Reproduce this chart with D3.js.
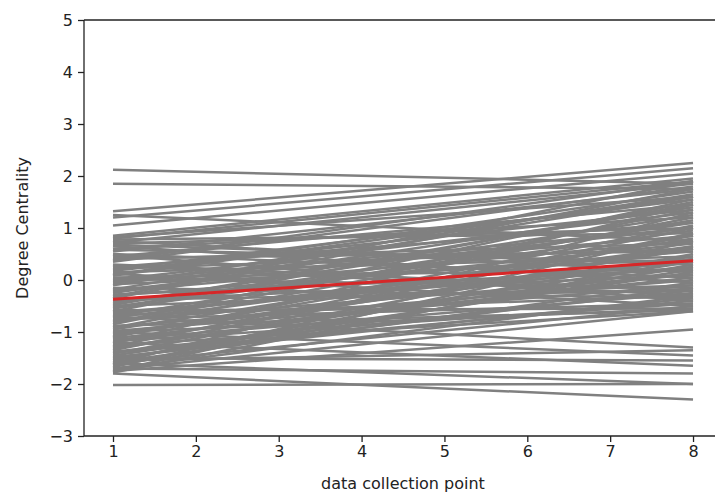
<!DOCTYPE html>
<html>
<head>
<meta charset="utf-8">
<script src="https://cdn.jsdelivr.net/npm/d3@7"></script>
<style>
  body { margin: 0; background: #fff; }
  svg { display: block; font-family: "DejaVu Sans", sans-serif; }
</style>
</head>
<body>
<svg id="chart" width="715" height="495"></svg>
<script>
// data collection points (x values)
const points = [1, 2, 3, 4, 5, 6, 7, 8];

// per-subject fitted lines: value at first and last collection point
const startValues = [
  2.12, 1.85, 1.32, 1.2, 1.05, 0.85, 0.8, 1.25,
  0.82, 0.78, 0.72, 0.68, 0.6, 0.55, 0.5, 0.45, 0.4, 0.35, 0.3, 0.25,
  0.2, 0.15, 0.1, 0.05, 0.0, -0.05, -0.1, -0.15, -0.2, -0.25,
  -0.3, -0.35, -0.4, -0.45, -0.5, -0.55, -0.6, -0.65, -0.7, -0.75,
  -0.8, -0.85, -0.9, -0.95, -1.0, -1.05, -1.1, -1.15, -1.2, -1.25,
  -1.3, -1.35, -1.4, -1.45, -1.5, -1.55, -1.6, -1.65, -1.7, -1.75,
  0.65, 0.38, 0.12, -0.18, -0.42, -0.68, -0.92, -1.12, -1.38, -0.28,
  0.22, -0.58, -0.02, -1.02, 0.48, -0.78, -1.28, 0.02, -0.48, -1.58,
  0.58, -0.88, -1.68,
  0.7, 0.42, 0.18, -0.08, -0.22, -0.38, -0.52, -0.62, -0.72, -0.82,
  -0.98, -1.08, -1.18, -1.32, -1.42, -1.48, -1.52, -1.62, -1.72, -1.78,
  0.28, 0.08, -0.32, -1.22, 0.75,
  -2.02, -1.8, -1.7, -1.5, -1.55, -1.2, -1.0, -0.7, -1.75, -1.6
];
const endValues = [
  1.85, 1.75, 2.25, 2.15, 2.05, 1.95, 1.9, 0.75,
  1.6, 0.9, 1.85, 0.3, 1.2, 1.75, 0.05, 1.45, 0.7, 1.8, -0.2, 1.1,
  1.55, 0.45, 1.7, 0.2, 1.3, 0.85, 1.65, -0.35, 1.0, 1.4,
  0.55, 1.75, 0.1, 1.25, -0.1, 0.95, 1.5, 0.35, 1.15, -0.45,
  0.65, 1.35, 0.0, 0.8, -0.55, 0.4, 1.05, -0.25, 0.6, -0.6,
  0.25, 0.9, -0.4, 0.15, -0.15, 0.5, -0.5, 0.3, -0.3, 0.75,
  -0.05, 1.9, -0.5, 1.6, 0.7, -0.3, 1.2, 0.05, -0.2, 0.2,
  0.6, -0.55, 1.0, 0.45, -0.4, 0.1, 1.0, -0.15, 1.45, -0.05,
  0.35, -0.58, 0.9,
  1.0, 0.55, 1.35, 0.4, 0.75, -0.2, 1.1, 0.25, 0.6, 1.55,
  -0.1, 0.85, -0.45, 0.35, 0.65, -0.35, 0.2, 1.3, -0.6, 0.4,
  -0.3, 1.6, 1.9, 1.45, 0.15,
  -2.0, -2.3, -1.8, -1.55, -1.35, -1.65, -1.45, -1.3, -0.95, -2.0
];

// mean trend
const meanValues = [-0.37, 0.37];

const yTicks = [-3, -2, -1, 0, 1, 2, 3, 4, 5];
const xLabel = "data collection point";
const yLabel = "Degree Centrality";

const svg = d3.select('#chart');
const margin = { top: 20, left: 84, bottom: 59 };
const height = 495 - margin.top - margin.bottom;

// matplotlib-style 5% margins on x
const x = d3.scaleLinear().domain([0.65, 8.35]).range([margin.left, margin.left + (8.35 - 0.65) * 82.86]);
const y = d3.scaleLinear().domain([-3, 5]).range([margin.top + height, margin.top]);

const first = points[0], last = points[points.length - 1];
const line = d3.line().x(d => x(d[0])).y(d => y(d[1]));

const lines = startValues.map((s, i) => [[first, s], [last, endValues[i]]]);

const g = svg.append('g');
g.selectAll('.subject')
  .data(lines)
  .join('path')
  .attr('class', 'subject')
  .attr('d', line)
  .attr('fill', 'none')
  .attr('stroke', '#808080')
  .attr('stroke-width', 2.5);

g.append('path')
  .datum([[first, meanValues[0]], [last, meanValues[1]]])
  .attr('d', line)
  .attr('fill', 'none')
  .attr('stroke', '#d62728')
  .attr('stroke-width', 3);

// axes
const fmt = d => d < 0 ? '\u2212' + Math.abs(d) : String(d);
const yAxis = svg.append('g')
  .attr('transform', `translate(${margin.left},0)`)
  .call(d3.axisLeft(y).tickValues(yTicks).tickFormat(fmt).tickSize(6).tickPadding(5));
const xAxis = svg.append('g')
  .attr('transform', `translate(0,${margin.top + height})`)
  .call(d3.axisBottom(x).tickValues(points).tickFormat(fmt).tickSize(6).tickPadding(4));

[yAxis, xAxis].forEach(a => {
  a.select('.domain').attr('stroke', '#222').attr('stroke-width', 1.3);
  a.selectAll('.tick line').attr('stroke', '#222').attr('stroke-width', 1.3);
  a.selectAll('.tick text').attr('fill', '#222').style('font-size', '16px').style('font-family', '"DejaVu Sans", sans-serif');
});
// remove outer ticks of domain paths
yAxis.select('.domain').attr('d', `M0,${y(-3)}V${y(5)}`);
xAxis.select('.domain').attr('d', `M${margin.left},0H715`);

// top spine
svg.append('line')
  .attr('x1', margin.left).attr('x2', 715)
  .attr('y1', margin.top).attr('y2', margin.top)
  .attr('stroke', '#222').attr('stroke-width', 1.3);

svg.append('text')
  .attr('x', x(4.5)).attr('y', 489)
  .attr('text-anchor', 'middle')
  .attr('fill', '#222')
  .style('font-size', '16px')
  .text(xLabel);

svg.append('text')
  .attr('transform', `translate(28,${y(1)}) rotate(-90)`)
  .attr('text-anchor', 'middle')
  .attr('fill', '#222')
  .style('font-size', '16px')
  .text(yLabel);
</script>
</body>
</html>
